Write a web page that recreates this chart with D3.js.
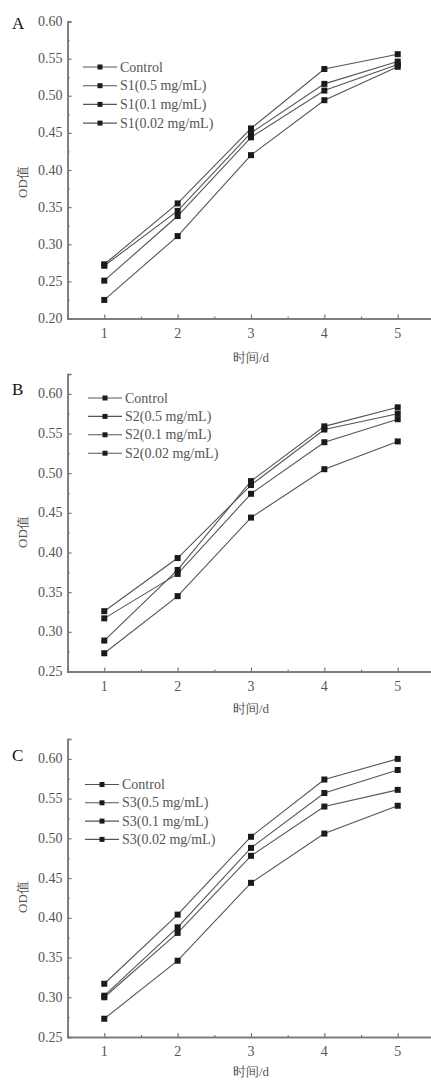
<!DOCTYPE html>
<html>
<head>
<meta charset="utf-8">
<script src="https://cdn.jsdelivr.net/npm/d3@7"></script>
<style>
  body { margin: 0; background: #fff; }
  svg text { font-family: "Liberation Serif", "DejaVu Serif", serif; }
</style>
</head>
<body>
<div id="chart"></div>
<script>
// x values (days)
const days = [1, 2, 3, 4, 5];
const xTicks = [1, 2, 3, 4, 5];

// panel A
const legendA = ['Control', 'S1(0.5 mg/mL)', 'S1(0.1 mg/mL)', 'S1(0.02 mg/mL)'];
const controlA = [0.273, 0.355, 0.456, 0.536, 0.556];
const s1High = [0.271, 0.345, 0.450, 0.516, 0.546];
const s1Mid = [0.251, 0.338, 0.444, 0.507, 0.542];
const s1Low = [0.225, 0.311, 0.420, 0.494, 0.539];
const yTicksA = [0.20, 0.25, 0.30, 0.35, 0.40, 0.45, 0.50, 0.55, 0.60];

// panel B
const legendB = ['Control', 'S2(0.5 mg/mL)', 'S2(0.1 mg/mL)', 'S2(0.02 mg/mL)'];
const controlB = [0.326, 0.393, 0.485, 0.555, 0.575];
const s2High = [0.289, 0.378, 0.490, 0.559, 0.583];
const s2Mid = [0.317, 0.373, 0.474, 0.539, 0.568];
const s2Low = [0.273, 0.345, 0.444, 0.505, 0.540];
const yTicksB = [0.25, 0.30, 0.35, 0.40, 0.45, 0.50, 0.55, 0.60];

// panel C
const legendC = ['Control', 'S3(0.5 mg/mL)', 'S3(0.1 mg/mL)', 'S3(0.02 mg/mL)'];
const controlC = [0.317, 0.404, 0.502, 0.574, 0.600];
const s3High = [0.302, 0.388, 0.488, 0.557, 0.586];
const s3Mid = [0.300, 0.381, 0.478, 0.540, 0.561];
const s3Low = [0.273, 0.346, 0.444, 0.506, 0.541];
const yTicksC = [0.25, 0.30, 0.35, 0.40, 0.45, 0.50, 0.55, 0.60];

const W = 431, H = 1081;
const svg = d3.select('#chart').append('svg')
  .attr('width', W).attr('height', H);

const axisColor = '#777';
const textColor = '#555';
const lineColor = '#555';

function drawPanel(opt) {
  const g = svg.append('g');
  const x = d3.scaleLinear().domain([0.5, 5.5]).range([67.6, 434.4]);
  const y = d3.scaleLinear().domain(opt.yDomain).range([opt.bottom, opt.top]);

  // axes (ticks inward)
  const yAxis = g.append('g')
    .attr('transform', `translate(${x(0.5)},0)`)
    .call(d3.axisRight(y).tickValues(opt.yTicks).tickSize(4).tickFormat(''));
  const yMinor = g.append('g')
    .attr('transform', `translate(${x(0.5)},0)`)
    .call(d3.axisRight(y).tickValues(opt.yTicks.map(v => v + 0.025).filter(v => v < opt.yDomain[1]))
      .tickSize(2).tickFormat(''));
  const xAxis = g.append('g')
    .attr('transform', `translate(0,${opt.bottom})`)
    .call(d3.axisTop(x).tickValues(xTicks).tickSize(4).tickFormat(''));
  const xMinor = g.append('g')
    .attr('transform', `translate(0,${opt.bottom})`)
    .call(d3.axisTop(x).tickValues([1.5, 2.5, 3.5, 4.5]).tickSize(2).tickFormat(''));
  [yAxis, yMinor, xAxis, xMinor].forEach(a => {
    a.selectAll('path').attr('stroke', axisColor).attr('stroke-width', 1.5);
    a.selectAll('line').attr('stroke', axisColor).attr('stroke-width', 1.2);
  });

  // tick labels
  g.selectAll('.ylab').data(opt.yTicks).enter().append('text')
    .attr('x', x(0.5) - 5).attr('y', d => y(d) + 4.5)
    .attr('text-anchor', 'end').attr('font-size', 14).attr('fill', textColor)
    .text(d => d.toFixed(2));
  g.selectAll('.xlab').data(xTicks).enter().append('text')
    .attr('x', d => x(d)).attr('y', opt.bottom + 19)
    .attr('text-anchor', 'middle').attr('font-size', 14).attr('fill', textColor)
    .text(d => d);

  // axis titles
  g.append('text')
    .attr('x', x(3)).attr('y', opt.bottom + opt.titleOffset)
    .attr('text-anchor', 'middle').attr('font-size', 13).attr('fill', textColor)
    .attr('font-family', '"Noto Sans CJK SC", serif')
    .text('时间/d');
  g.append('text')
    .attr('transform', `translate(27,${opt.labelY}) rotate(-90)`)
    .attr('text-anchor', 'middle').attr('font-size', 13).attr('fill', textColor)
    .attr('font-family', '"Noto Sans CJK SC", serif')
    .text('OD值');

  // panel letter
  g.append('text')
    .attr('x', 12).attr('y', opt.letterY)
    .attr('font-size', 17).attr('fill', '#111')
    .text(opt.letter);

  // series
  const line = d3.line().x((d, i) => x(days[i])).y(d => y(d));
  opt.series.forEach(s => {
    g.append('path').datum(s)
      .attr('d', line).attr('fill', 'none')
      .attr('stroke', lineColor).attr('stroke-width', 1.1);
  });
  opt.series.forEach(s => {
    g.selectAll(null).data(s).enter().append('rect')
      .attr('x', (d, i) => x(days[i]) - 3).attr('y', d => y(d) - 3)
      .attr('width', 6).attr('height', 6).attr('fill', '#1a1a1a');
  });

  // legend
  const lg = g.append('g');
  opt.legend.forEach((name, i) => {
    const ly = opt.legendY + i * opt.legendStep;
    lg.append('line')
      .attr('x1', opt.legendX).attr('x2', opt.legendX + 34)
      .attr('y1', ly).attr('y2', ly)
      .attr('stroke', lineColor).attr('stroke-width', 1.1);
    lg.append('rect')
      .attr('x', opt.legendX + 17 - 2.5).attr('y', ly - 2.5)
      .attr('width', 5).attr('height', 5).attr('fill', '#1a1a1a');
    lg.append('text')
      .attr('x', opt.legendX + 37).attr('y', ly + 4.5)
      .attr('font-size', 14).attr('fill', textColor)
      .text(name);
  });
}

drawPanel({
  letter: 'A', letterY: 29,
  yDomain: [0.20, 0.60], yTicks: yTicksA, top: 21.5, bottom: 318.5, labelY: 182, titleOffset: 43,
  series: [controlA, s1High, s1Mid, s1Low], legend: legendA,
  legendX: 83, legendY: 67, legendStep: 18.7
});

drawPanel({
  letter: 'B', letterY: 395,
  yDomain: [0.25, 0.625], yTicks: yTicksB, top: 374, bottom: 671.5, labelY: 532, titleOffset: 41,
  series: [controlB, s2High, s2Mid, s2Low], legend: legendB,
  legendX: 88, legendY: 398, legendStep: 18.4
});

drawPanel({
  letter: 'C', letterY: 761,
  yDomain: [0.25, 0.625], yTicks: yTicksC, top: 739, bottom: 1037, labelY: 897, titleOffset: 39,
  series: [controlC, s3High, s3Mid, s3Low], legend: legendC,
  legendX: 85, legendY: 784.5, legendStep: 18.3
});
</script>
</body>
</html>
